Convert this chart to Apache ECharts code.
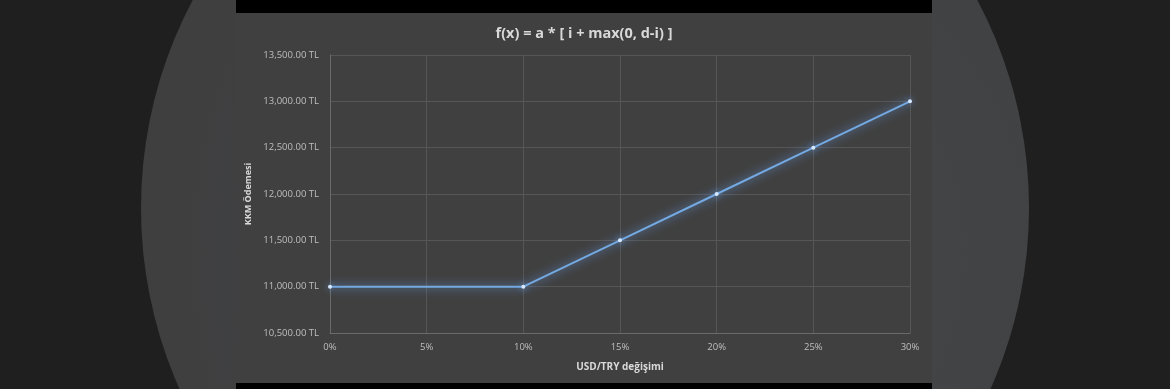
<!DOCTYPE html>
<html>
<head>
<meta charset="utf-8">
<script src="https://cdn.jsdelivr.net/npm/echarts@6/dist/echarts.min.js"></script>
<style>
  html, body { margin: 0; padding: 0; }
  body { width: 1170px; height: 389px; background: #1f1f20; position: relative; overflow: hidden; }
  /* big grey disc behind the chart */
  #disc { position: absolute; left: 141px; top: -236px; width: 888px; height: 888px; border-radius: 50%;
          background: radial-gradient(circle at 62% 55%, #464b52 0%, #424446 35%, #3f3f40 70%); }
  #bar-top, #bar-bottom { position: absolute; left: 236px; width: 696px; background: #000; }
  #bar-top { top: 0; height: 13px; }
  #bar-bottom { top: 383px; height: 6px; }
  #chart { position: absolute; left: 236px; top: 13px; width: 696px; height: 370px; background: #404040; }
</style>
</head>
<body>
<div id="disc"></div>
<div id="bar-top"></div>
<div id="bar-bottom"></div>
<div id="chart"></div>
<script>
// veriler
var changePct = [0, 10, 15, 20, 25, 30];              // USD/TRY değişimi (%)
var payment = [11000, 11000, 11500, 12000, 12500, 13000]; // KKM ödemesi (TL)
var chartTitle = 'f(x) = a * [ i + max(0, d-i) ]';

var chart = echarts.init(document.getElementById('chart'));

var points = []
for (var i = 0; i < changePct.length; i++) {
  points.push([changePct[i], payment[i]])
}

function tl(v) {
  return v.toLocaleString('en-US', { minimumFractionDigits: 2, maximumFractionDigits: 2 }) + ' TL'
}

chart.setOption({
  backgroundColor: '#404040',
  animation: false,
  title: {
    text: chartTitle,
    left: 'center',
    top: 8,
    textStyle: { color: '#d9d9d9', fontSize: 14.5, fontWeight: 'bold', fontFamily: 'Open Sans' }
  },
  grid: { left: 94, right: 22, top: 42, bottom: 50, outerBoundsMode: 'none' },
  xAxis: {
    type: 'value',
    min: 0, max: 30, interval: 5,
    name: 'USD/TRY değişimi',
    nameLocation: 'middle',
    nameGap: 29,
    nameTextStyle: { color: '#d9d9d9', fontSize: 10, fontWeight: 'bold', fontFamily: 'Open Sans' },
    axisLine: { show: true, lineStyle: { color: '#6a6a6a', width: 1 } },
    axisTick: { show: false },
    axisLabel: { color: '#bfbfbf', fontSize: 9.5, margin: 9, fontFamily: 'Open Sans', formatter: '{value}%' },
    splitLine: { show: true, lineStyle: { color: '#565656', width: 1 } }
  },
  yAxis: {
    type: 'value',
    min: 10500, max: 13500, interval: 500,
    name: 'KKM Ödemesi',
    nameLocation: 'middle',
    nameGap: 76,
    nameTextStyle: { color: '#d9d9d9', fontSize: 9, fontWeight: 'bold', fontFamily: 'Open Sans' },
    axisLine: { show: true, lineStyle: { color: '#6a6a6a', width: 1 } },
    axisTick: { show: false },
    axisLabel: { color: '#bfbfbf', fontSize: 9.5, margin: 11, fontFamily: 'Open Sans', formatter: tl },
    splitLine: { show: true, lineStyle: { color: '#565656', width: 1 } }
  },
  series: [{
    type: 'line',
    data: points,
    symbol: 'circle',
    symbolSize: 4,
    itemStyle: { color: '#d6e8ff', shadowBlur: 6, shadowColor: 'rgba(120,180,255,0.9)' },
    lineStyle: { color: '#74a9e2', width: 2, shadowBlur: 10, shadowColor: 'rgba(110,170,255,0.95)' }
  }]
})
</script>
</body>
</html>
